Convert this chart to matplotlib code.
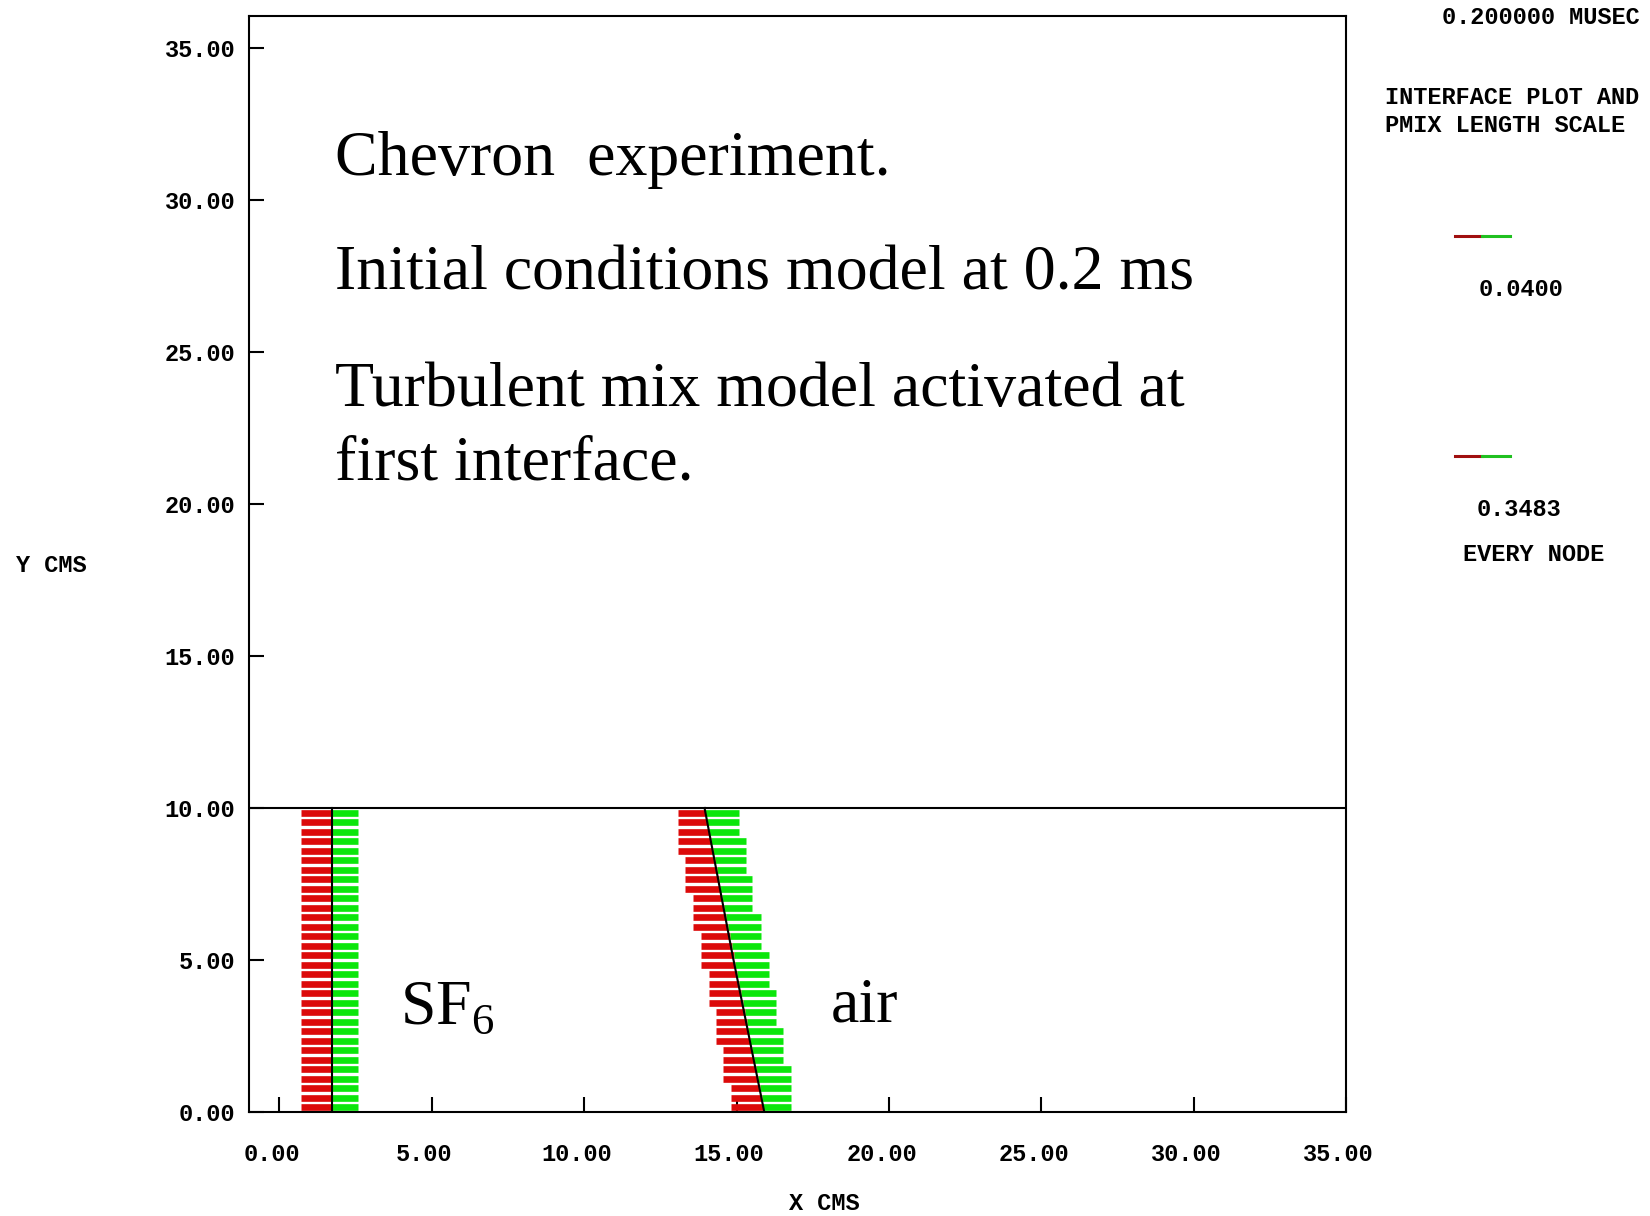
import numpy as np
import matplotlib
matplotlib.use("Agg")
import matplotlib.pyplot as plt
import matplotlib.transforms as mtransforms

# interface node heights (cm), same for both interfaces
node_y = [0.16, 0.47, 0.78, 1.09, 1.41, 1.72, 2.03, 2.34, 2.66, 2.97, 3.28,
          3.59, 3.91, 4.22, 4.53, 4.84, 5.16, 5.47, 5.78, 6.09, 6.41, 6.72,
          7.03, 7.34, 7.66, 7.97, 8.28, 8.59, 8.91, 9.22, 9.53, 9.84]

# first interface (SF6 side), vertical
iface1_x = 1.73
iface1_red_left = 0.70
iface1_green_right = 2.58

# second interface (chevron), tilted
iface2_x = [15.88, 15.82, 15.76, 15.70, 15.63, 15.57, 15.51, 15.45, 15.39, 15.33,
            15.27, 15.21, 15.14, 15.08, 15.02, 14.96, 14.90, 14.84, 14.78, 14.72,
            14.65, 14.59, 14.53, 14.47, 14.41, 14.35, 14.29, 14.23, 14.16, 14.10,
            14.04, 13.98]
iface2_red_left = [14.81, 14.81, 14.81, 14.57, 14.57, 14.57, 14.57, 14.32, 14.32, 14.32,
                   14.32, 14.11, 14.11, 14.11, 14.11, 13.82, 13.82, 13.82, 13.82, 13.56,
                   13.56, 13.56, 13.56, 13.31, 13.31, 13.31, 13.31, 13.07, 13.07, 13.07,
                   13.07, 13.07]
iface2_green_right = [16.78, 16.78, 16.78, 16.78, 16.78, 16.54, 16.54, 16.54, 16.54, 16.29,
                      16.29, 16.29, 16.29, 16.07, 16.07, 16.07, 16.07, 15.80, 15.80, 15.80,
                      15.80, 15.52, 15.52, 15.52, 15.52, 15.31, 15.31, 15.31, 15.31, 15.09,
                      15.09, 15.09]
iface2_line_x = [15.91, 14.88, 13.95]
iface2_line_y = [0.0, 5.1, 10.0]

x_ticks = [0, 5, 10, 15, 20, 25, 30, 35]
y_ticks = [0, 5, 10, 15, 20, 25, 30, 35]
tube_top = 10.0

RED = '#dc0a0a'
GREEN = '#0be60b'
mono = 'Liberation Mono'
W, H = 1650, 1216

fig = plt.figure(figsize=(16.5, 12.16), dpi=100)
ax = fig.add_axes([249 / W, 1 - 1112 / H, (1346 - 249) / W, (1112 - 16) / H])

# mix length bars
bar_lw = 4.8
ax.hlines(node_y, iface1_red_left, iface1_x, colors=RED, linewidth=bar_lw)
ax.hlines(node_y, iface1_x, iface1_green_right, colors=GREEN, linewidth=bar_lw)
ax.hlines(node_y, iface2_red_left, iface2_x, colors=RED, linewidth=bar_lw)
ax.hlines(node_y, iface2_x, iface2_green_right, colors=GREEN, linewidth=bar_lw)

# interfaces and tube wall
ax.plot([iface1_x, iface1_x], [0, tube_top], color='black', lw=1.5)
ax.plot(iface2_line_x, iface2_line_y, color='black', lw=1.5)
ax.axhline(tube_top, color='black', lw=1.5)

ax.set_xlim(-1.0, 35.0)
ax.set_ylim(0, 36.05)
ax.set_xticks(x_ticks)
ax.set_yticks(y_ticks)
ax.set_xticklabels(["%.2f" % v for v in x_ticks], family=mono, fontweight='bold', fontsize=17)
ax.set_yticklabels(["%.2f" % v for v in y_ticks], family=mono, fontweight='bold', fontsize=17)
ax.tick_params(axis='x', direction='in', length=11, width=1.5, pad=22)
ax.tick_params(axis='y', direction='in', length=11, width=1.5, pad=10)
for sp in ax.spines.values():
    sp.set_linewidth(1.5)

shift = mtransforms.ScaledTranslation(-7.4 / 100, 0, fig.dpi_scale_trans)
for lab in ax.get_xticklabels():
    lab.set_transform(lab.get_transform() + shift)

def ftext(x, y, s, **kw):
    fig.text(x / W, 1 - y / H, s, **kw)

# axis labels
ftext(16, 565, "Y CMS", family=mono, fontweight='bold', fontsize=17, va='center', ha='left')
ftext(789, 1203, "X CMS", family=mono, fontweight='bold', fontsize=17, va='center', ha='left')

# right panel
ftext(1640, 17, "0.200000 MUSEC", family=mono, fontweight='bold', fontsize=17, va='center', ha='right')
ftext(1385, 98, "INTERFACE PLOT AND", family=mono, fontweight='bold', fontsize=17, va='center', ha='left')
ftext(1385, 125, "PMIX LENGTH SCALE", family=mono, fontweight='bold', fontsize=17, va='center', ha='left')
ftext(1521, 290, "0.0400", family=mono, fontweight='bold', fontsize=17, va='center', ha='center')
ftext(1519, 509, "0.3483", family=mono, fontweight='bold', fontsize=17, va='center', ha='center')
ftext(1534, 554, "EVERY NODE", family=mono, fontweight='bold', fontsize=17, va='center', ha='center')
for ly in (236, 456):
    fig.add_artist(plt.Line2D([1455 / W, 1482 / W], [1 - ly / H] * 2, color='#a01010', lw=2.2))
    fig.add_artist(plt.Line2D([1482 / W, 1510 / W], [1 - ly / H] * 2, color='#20c020', lw=2.2))

# annotations
serif = 'Liberation Serif'
big = 46
ftext(335, 175, "Chevron  experiment.", family=serif, fontsize=big, va='baseline')
ftext(335, 290, "Initial conditions model at 0.2 ms", family=serif, fontsize=big, va='baseline')
ftext(335, 406, "Turbulent mix model activated at", family=serif, fontsize=big, va='baseline')
ftext(335, 479, "first interface.", family=serif, fontsize=big, va='baseline')
plt.rcParams['mathtext.fontset'] = 'custom'
plt.rcParams['mathtext.rm'] = serif
ftext(400, 1023, r"SF$_\mathregular{6}$", family=serif, fontsize=big, va='baseline')
ftext(831, 1021, "air", family=serif, fontsize=big, va='baseline')

fig.savefig("out.png", dpi=100)
